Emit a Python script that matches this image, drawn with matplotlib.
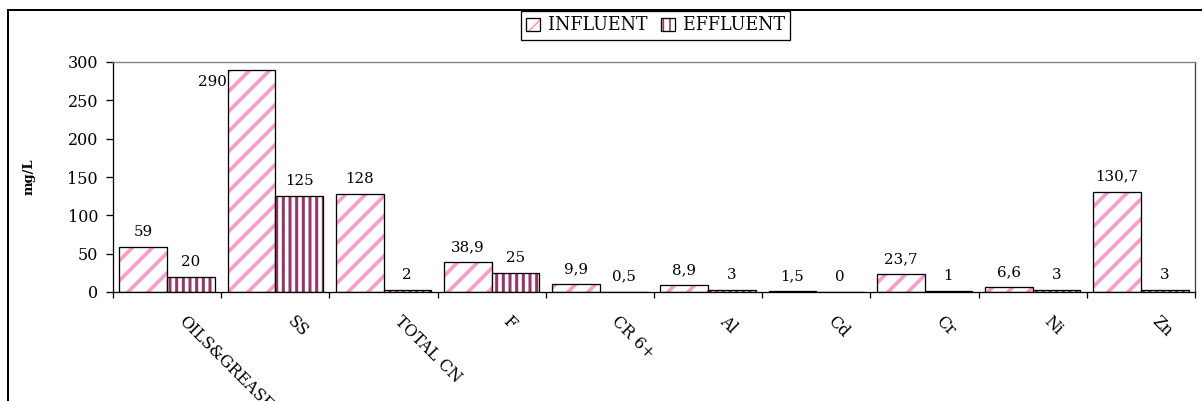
import matplotlib
matplotlib.use('Agg')
import matplotlib.pyplot as plt
import matplotlib.transforms as mtrans
from matplotlib.lines import Line2D
import numpy as np

categories = ['OILS&GREASE', 'SS', 'TOTAL CN', 'F', 'CR 6+', 'Al', 'Cd', 'Cr', 'Ni', 'Zn']
influent = [59, 290, 128, 38.9, 9.9, 8.9, 1.5, 23.7, 6.6, 130.7]
effluent = [20, 125, 2, 25, 0.5, 3, 0, 1, 3, 3]
influent_txt = ['59', '290', '128', '38,9', '9,9', '8,9', '1,5', '23,7', '6,6', '130,7']
effluent_txt = ['20', '125', '2', '25', '0,5', '3', '0', '1', '3', '3']

# dpi 120 so the hatch spacing comes out like the original
DPI = 120
W, H = 1202, 401


def px(n):
    # pixels -> points
    return n * 72.0 / DPI


plt.rcParams['font.family'] = ['DejaVu Serif']
plt.rcParams['font.size'] = px(16)

pink = '#FF99CC'
plum = '#993366'

fig = plt.figure(figsize=(W / DPI, H / DPI), dpi=DPI)
ax = fig.add_axes([113 / W, 1 - 292 / H, 1082 / W, 230 / H])

x = np.arange(len(categories))
w = 0.44


def hatched(xpos, vals, col, hatch, hlw):
    with plt.rc_context({'hatch.linewidth': hlw}):
        bars = ax.bar(xpos, vals, w, color='white', edgecolor=col, linewidth=0, hatch=hatch)
    for b in bars:
        if hasattr(b, 'set_hatch_linewidth'):
            b.set_hatch_linewidth(hlw)
    outl = ax.bar(xpos, vals, w, facecolor='none', edgecolor='black', linewidth=px(1.3))
    return bars, outl


b1, o1 = hatched(x - w / 2, influent, pink, '//', px(3.6))
b2, o2 = hatched(x + w / 2, effluent, plum, '|||', px(3.0))

lab_fs = px(15)
for i in range(len(categories)):
    if influent[i] > 250:
        ax.annotate(influent_txt[i], (x[i] - w, influent[i]), xytext=(px(-1), px(-12)),
                    textcoords='offset points', ha='right', va='center', fontsize=lab_fs)
    else:
        ax.annotate(influent_txt[i], (x[i] - w / 2, influent[i]), xytext=(0, px(15)),
                    textcoords='offset points', ha='center', va='center', fontsize=lab_fs)
    ax.annotate(effluent_txt[i], (x[i] + w / 2, effluent[i]), xytext=(0, px(15)),
                textcoords='offset points', ha='center', va='center', fontsize=lab_fs)

ax.set_xlim(-0.5, len(categories) - 0.5)
ax.set_ylim(0, 300)
ax.set_yticks(range(0, 301, 50))
ax.tick_params(axis='y', direction='out', length=px(7), width=px(1.3), pad=px(8))

ax.set_xticks(np.arange(len(categories) + 1) - 0.5)
ax.set_xticklabels([])
ax.tick_params(axis='x', which='major', direction='out', length=px(6), width=px(1.3))
ax.set_xticks(x, minor=True)
ax.set_xticklabels(categories, minor=True, rotation=-45, ha='left', va='top')
ax.tick_params(axis='x', which='minor', length=0, pad=px(21))
off = mtrans.ScaledTranslation(8 / DPI, 0, fig.dpi_scale_trans)
for lab in ax.get_xticklabels(minor=True):
    lab.set_transform(lab.get_transform() + off)

ax.spines['top'].set_color('#808080')
ax.spines['right'].set_color('#404040')
for s in ax.spines.values():
    s.set_linewidth(px(1.3))

ax.set_ylabel('mg/L', fontsize=px(13), fontweight='bold')
ax.yaxis.set_label_coords(-0.072, 0.5)

leg = fig.legend([(b1[0], o1[0]), (b2[0], o2[0])], ['INFLUENT', 'EFFLUENT'],
                 loc='center', bbox_to_anchor=(655.5 / W, 1 - 25.5 / H), ncol=2,
                 fancybox=False, edgecolor='black', framealpha=1,
                 handlelength=0.8, handleheight=0.8, handletextpad=0.45,
                 columnspacing=0.8, borderpad=0.3, borderaxespad=0,
                 fontsize=px(17.5))
leg.get_frame().set_linewidth(px(1.3))

fig.add_artist(Line2D([8 / W, 1], [1 - 10 / H, 1 - 10 / H], color='black', lw=px(2),
                      transform=fig.transFigure))
fig.add_artist(Line2D([8 / W, 8 / W], [0, 1 - 10 / H], color='black', lw=px(2),
                      transform=fig.transFigure))

fig.savefig('out.png', dpi=DPI)
